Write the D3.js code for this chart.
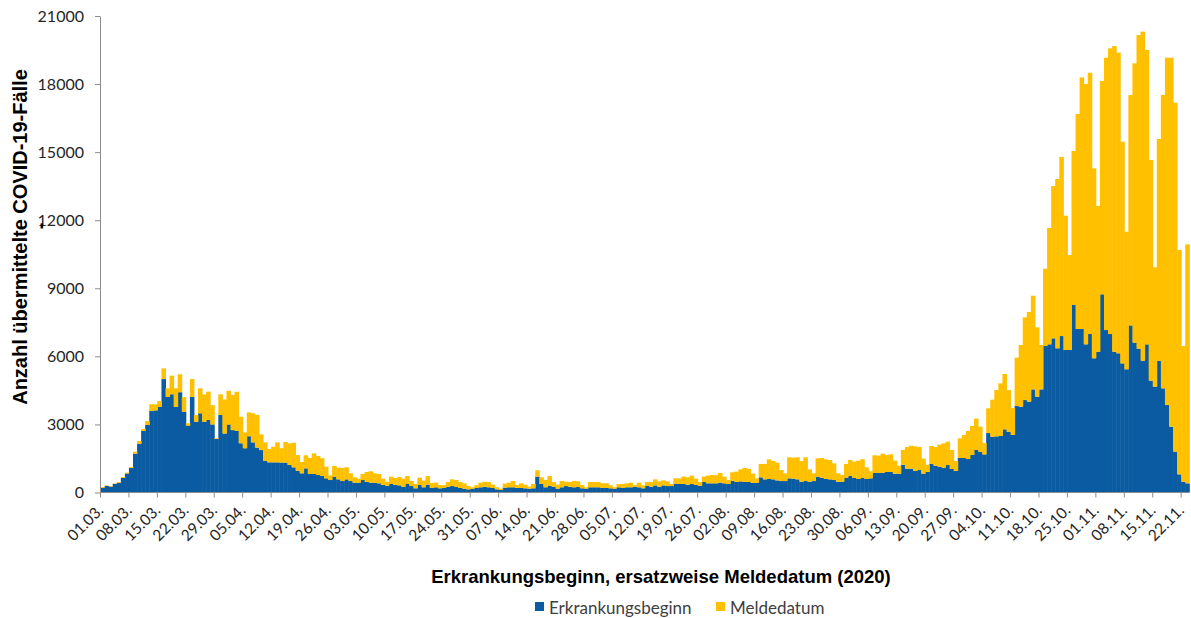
<!DOCTYPE html>
<html><head><meta charset="utf-8">
<script src="https://cdn.jsdelivr.net/npm/d3@7"></script>
<style>body{margin:0;background:#fff} svg{display:block}</style>
</head><body>
<svg id="c" width="1191" height="618"></svg>
<script>
// daily categories start 01.03.2020
const startDate = "2020-03-01";

// Erkrankungsbeginn (blue), one value per day
const erkrankungsbeginn = [
  210,290,260,380,430,640,840,1080,1710,2150,
  2710,2975,3590,3620,3770,5000,4210,4330,3770,4420,
  3560,2950,4210,3120,3490,3120,3195,3000,2360,3415,
  2600,3000,2750,2710,2170,1950,2480,2210,1980,1870,
  1390,1330,1330,1330,1320,1315,1210,1110,960,845,
  1065,815,815,770,730,625,550,700,580,505,
  580,505,435,435,550,465,435,420,405,330,
  300,375,330,315,255,375,285,185,330,230,
  345,200,230,185,200,255,285,255,200,170,
  140,170,200,230,255,230,200,140,110,215,
  230,230,200,200,185,170,185,700,375,230,
  300,255,170,230,285,255,230,255,185,170,
  230,230,230,200,200,185,170,230,200,230,
  230,255,230,185,300,255,315,255,315,285,
  285,390,375,375,345,375,330,300,465,405,
  405,405,435,405,375,520,465,490,465,465,
  420,435,670,580,595,580,535,505,505,625,
  610,580,475,505,475,505,700,655,595,580,
  550,475,475,655,740,640,595,655,595,625,
  860,860,875,905,905,830,830,1225,1050,1050,
  950,990,830,905,1255,1180,1140,1095,1210,1035,
  950,1520,1520,1475,1655,1875,1800,1680,2620,2460,
  2475,2490,2785,2680,2535,3810,3785,4075,4005,4545,
  4225,4545,6455,6530,6795,6355,6895,6280,6280,8265,
  7205,7205,6530,6985,5915,6205,8735,7160,6985,6205,
  6135,5690,5430,7365,6605,6340,5810,6530,4930,4665,
  5810,4590,3855,2900,1800,800,475,405
];

// Meldedatum (yellow), stacked on top
const meldedatum = [
  30,20,20,20,30,40,40,40,90,120,
  90,175,300,270,260,470,380,820,820,790,
  640,100,790,295,1100,1205,1250,850,30,910,
  1500,1480,1550,1730,1170,700,1050,1280,1440,690,
  820,590,690,880,630,910,955,1085,690,500,
  575,705,910,840,780,515,205,470,515,575,
  530,340,235,175,265,440,500,425,410,280,
  175,325,310,365,355,350,220,190,325,295,
  380,220,205,145,120,205,295,295,265,235,
  150,60,120,205,220,235,145,90,60,175,
  205,280,130,205,160,90,190,280,295,325,
  425,205,175,280,190,205,280,235,145,60,
  235,235,235,205,205,130,60,145,175,175,
  205,75,205,130,160,205,265,235,220,205,
  90,235,250,325,325,365,280,160,235,340,
  365,355,425,295,175,370,455,530,615,575,
  410,190,590,675,865,810,780,485,340,925,
  925,970,910,1045,545,340,805,865,865,850,
  735,370,295,600,690,720,810,810,515,310,
  780,765,835,750,780,575,350,650,955,1015,
  1085,1015,660,320,795,825,970,1070,1030,840,
  440,865,1015,1235,1275,1380,1100,500,1090,1630,
  2040,2320,2440,1835,1185,2130,2715,3645,3950,4125,
  3055,1955,3410,5125,6710,7460,7890,5920,4185,6785,
  9475,11090,11470,11515,8370,6420,9400,12000,12590,13470,
  13250,9770,6065,10150,12310,13820,14500,12970,9725,5260,
  9770,12930,15310,16260,15380,9890,5980,10530
];

const yTicks = [0,3000,6000,9000,12000,15000,18000,21000];
const xTickLabels = ["01.03.","08.03.","15.03.","22.03.","29.03.","05.04.","12.04.","19.04.","26.04.",
  "03.05.","10.05.","17.05.","24.05.","31.05.","07.06.","14.06.","21.06.","28.06.","05.07.","12.07.",
  "19.07.","26.07.","02.08.","09.08.","16.08.","23.08.","30.08.","06.09.","13.09.","20.09.","27.09.",
  "04.10.","11.10.","18.10.","25.10.","01.11.","08.11.","15.11.","22.11."];
const xTickEvery = 7;
const seriesNames = ["Erkrankungsbeginn","Meldedatum"];
const seriesColors = ["#0a5ba1","#ffc000"];
const xTitle = "Erkrankungsbeginn, ersatzweise Meldedatum (2020)";
const yTitle = "Anzahl übermittelte COVID-19-Fälle";

const svg = d3.select("#c");
const n = erkrankungsbeginn.length;
const days = d3.range(n);
const x = d3.scaleBand().domain(days).range([100.5, 1189.3]).padding(0);
const y = d3.scaleLinear().domain([0, 21000]).range([492.5, 16]);

const rows = days.map(i => ({i, e: erkrankungsbeginn[i], m: meldedatum[i]}));
const stacked = d3.stack().keys(["e","m"])(rows);

svg.append("g").selectAll("g").data(stacked).join("g")
  .attr("fill", (d, k) => seriesColors[k])
  .selectAll("rect").data(d => d).join("rect")
  .attr("x", d => x(d.data.i))
  .attr("width", x.bandwidth() + 0.5)
  .attr("y", d => y(d[1]))
  .attr("height", d => y(d[0]) - y(d[1]));

const axisColor = "#8c8c8c";
const labelColor = "#262626";

// y axis
const yAxis = svg.append("g").attr("transform", "translate(100,0)")
  .call(d3.axisLeft(y).tickValues(yTicks).tickSize(5).tickSizeOuter(0).tickPadding(11).tickFormat(d => String(d)));
yAxis.select(".domain").attr("stroke", axisColor);
yAxis.selectAll(".tick line").attr("stroke", axisColor);
yAxis.selectAll(".tick text").attr("fill", labelColor).style("font", "16px Lato");

// x axis
const gx = svg.append("g");
gx.append("line").attr("x1", 100).attr("x2", 1189.3).attr("y1", y(0)).attr("y2", y(0)).attr("stroke", axisColor);
const tickIdx = d3.range(0, n, xTickEvery);
gx.selectAll("line.t").data(tickIdx).join("line").attr("class","t")
  .attr("x1", d => x(d)).attr("x2", d => x(d))
  .attr("y1", y(0)).attr("y2", y(0) + 5).attr("stroke", axisColor);
gx.selectAll("text").data(xTickLabels).join("text")
  .attr("transform", (d, k) => `translate(${x(k * xTickEvery) + x.bandwidth()/2 - 2},${y(0) + 15}) rotate(-45)`)
  .attr("text-anchor", "end")
  .attr("dy", "0.35em")
  .attr("fill", labelColor)
  .style("font", "15.5px Lato")
  .text(d => d);

// titles
svg.append("text").attr("x", 661).attr("y", 583).attr("text-anchor", "middle")
  .style("font", "bold 18.5px 'Liberation Sans', Arial, sans-serif").attr("fill", "#000").text(xTitle);
svg.append("text").attr("transform", "translate(27,237) rotate(-90)").attr("text-anchor", "middle")
  .style("font", "bold 20px 'Liberation Sans', Arial, sans-serif").attr("fill", "#000").text(yTitle);
svg.append("text").attr("transform", "translate(47,226) rotate(-90)").attr("text-anchor", "middle")
  .style("font", "bold 20px 'Liberation Sans', Arial, sans-serif").attr("fill", "#000").text("-");

// legend
const legendX = [535, 716];
const lg = svg.append("g");
seriesNames.forEach((name, k) => {
  lg.append("rect").attr("x", legendX[k]).attr("y", 602).attr("width", 9).attr("height", 9).attr("fill", seriesColors[k]);
  lg.append("text").attr("x", legendX[k] + 14).attr("y", 614).attr("fill", "#404040")
    .style("font", "17px Lato").text(name);
});
</script>
</body></html>
